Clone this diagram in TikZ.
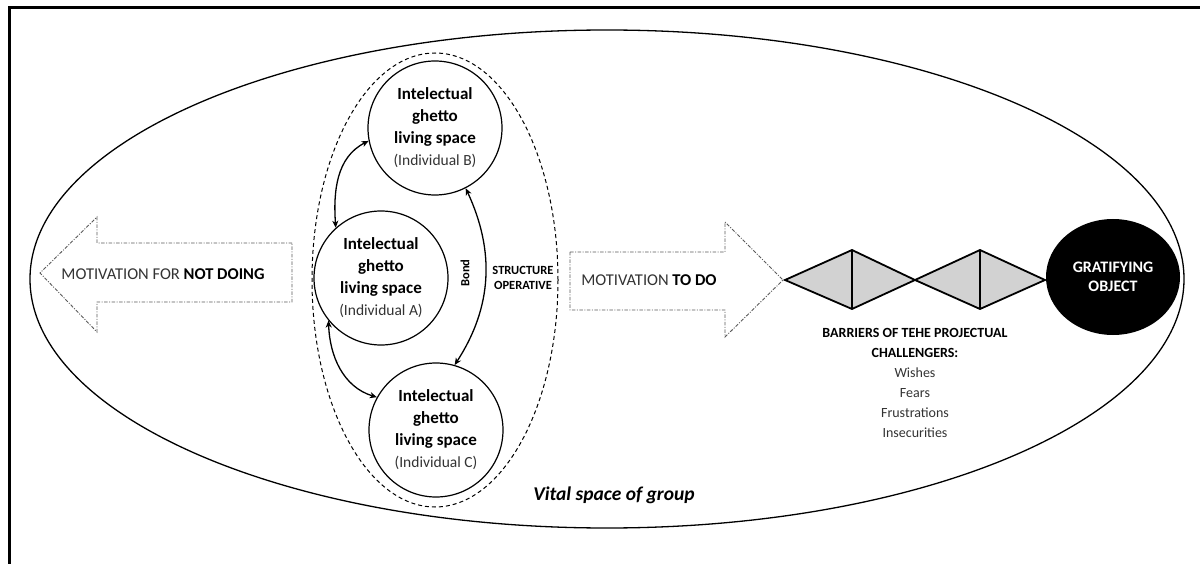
\documentclass[tikz,border=0pt]{standalone}
\usepackage{fontspec}
\setmainfont{Carlito}
\usetikzlibrary{arrows.meta,shapes.geometric}
\definecolor{txtgray}{HTML}{333333}
\definecolor{dashgray}{HTML}{5A5A5A}
\definecolor{barfill}{HTML}{D2D2D2}
\newcommand\indivfont{\fontsize{15.5}{22}\selectfont\mdseries\color{txtgray}}
\begin{document}
\begin{tikzpicture}[x=1pt,y=-1pt,
  frameline/.style={line width=2.5pt},
  bigell/.style={draw, ellipse, line width=1.3pt, inner sep=0pt},
  groupell/.style={draw, ellipse, dashed, line width=1pt, dash pattern=on 4pt off 3pt, inner sep=0pt},
  ghetto/.style={draw, circle, fill=white, line width=1.2pt, minimum size=134pt, inner sep=0pt, align=center, font=\fontsize{17}{22}\selectfont\bfseries},
  bond/.style={{Stealth[length=7pt,width=6pt,inset=2pt]}-{Stealth[length=7pt,width=6pt,inset=2pt]}, line width=1.3pt},
  motarrow/.style={draw=dashgray, line width=0.9pt, dash pattern=on 3.5pt off 1.5pt on 1pt off 1.5pt, fill=white},
  mottext/.style={font=\fontsize{16.5}{18}\selectfont, text=txtgray},
  barrier/.style={draw, line width=1.8pt, fill=barfill, line join=miter},
  smalllbl/.style={font=\fontsize{12.5}{15}\selectfont\bfseries, align=center},
]
\useasboundingbox (0,0) rectangle (1200,564);
% frame
\draw[frameline] (9.5,564) -- (9.5,7.5) -- (1200,7.5);
% vital space ellipse
\node[bigell, minimum width=1154pt, minimum height=498pt] (vital) at (607,279) {};
\node[font=\fontsize{19.5}{22}\selectfont\bfseries\itshape] (vitallbl) at (614,495) {Vital space of group};
% group dashed ellipse
\node[groupell, minimum width=246pt, minimum height=454pt] (group) at (435,280) {};
% left arrow
\draw[motarrow] (292,243) -- (97,243) -- (97,217) -- (40,273) -- (97,332) -- (97,302) -- (292,302) -- cycle;
\node[mottext] (notdoing) at (163,274) {MOTIVATION FOR \textcolor{black}{\textbf{NOT DOING}}};
% right arrow
\draw[motarrow] (570,252) -- (725,252) -- (725,222) -- (783,280) -- (725,337) -- (725,310) -- (570,310) -- cycle;
\node[mottext] (todo) at (649,280) {MOTIVATION \textcolor{black}{\textbf{TO DO}}};
% circles
\node[ghetto] (B) at (435,128) {Intelectual\\ghetto\\living space\\{\indivfont(Individual B)}};
\node[ghetto] (A) at (381,278) {Intelectual\\ghetto\\living space\\{\indivfont(Individual A)}};
\node[ghetto] (C) at (436,430) {Intelectual\\ghetto\\living space\\{\indivfont(Individual C)}};
% connectors
\draw[bond] (B.191) to[out=207, in=94, looseness=1] (A.132);
\draw[bond] (A.219) to[out=-88, in=163, looseness=1] (C.151);
\draw[bond] (B.297) to[out=-65, in=57, looseness=1] (C.74);
\node[smalllbl, rotate=90] (bondlbl) at (465,273) {Bond};
\node[smalllbl] (struct) at (523,278) {STRUCTURE\\OPERATIVE};
% barriers
\draw[barrier] (785,280) -- (852,250) -- (915,280) -- (852,309) -- cycle;
\draw[barrier] (915,280) -- (980,250) -- (1045,280) -- (980,309) -- cycle;
\draw[line width=1.8pt] (852,250) -- (852,309);
\draw[line width=1.8pt] (980,250) -- (980,309);
\node[align=center, font=\fontsize{14}{20}\selectfont, text=txtgray] (barlbl) at (915,383)
  {\textcolor{black}{\textbf{BARRIERS OF TEHE PROJECTUAL}}\\\textcolor{black}{\textbf{CHALLENGERS:}}\\Wishes\\Fears\\Frustrations\\Insecurities};
% gratifying object
\node[ellipse, fill=black, minimum width=134pt, minimum height=116pt, inner sep=0pt, text=white, align=center, font=\fontsize{16}{19}\selectfont\bfseries] (obj) at (1113,277) {GRATIFYING\\OBJECT};
\end{tikzpicture}
\end{document}
